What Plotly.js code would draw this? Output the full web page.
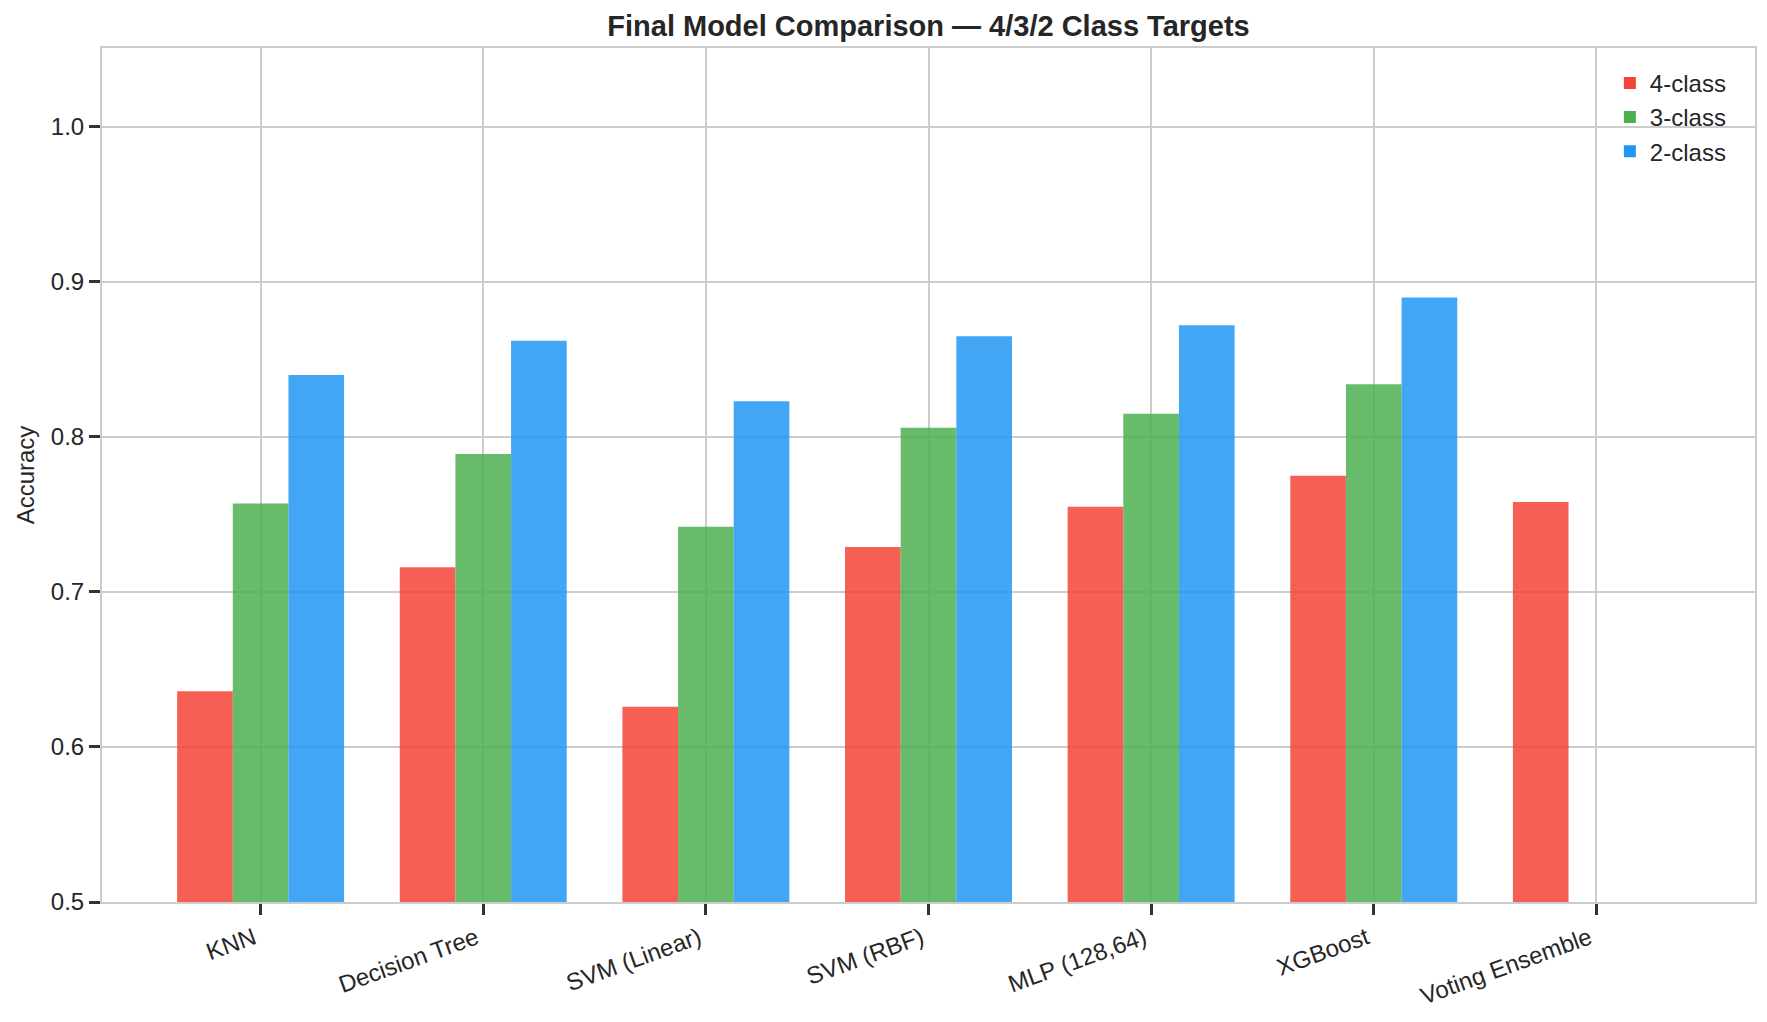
<!DOCTYPE html>
<html>
<head>
<meta charset="utf-8">
<script src="https://cdn.plot.ly/plotly-3.0.1.min.js"></script>
<style>html,body{margin:0;padding:0;background:#fff;}#chart{width:1767px;height:1022px;}</style>
</head>
<body>
<div id="chart"></div>
<script>
const models = ["KNN", "Decision Tree", "SVM (Linear)", "SVM (RBF)", "MLP (128,64)", "XGBoost", "Voting Ensemble"];
const acc4 = [0.636, 0.716, 0.626, 0.729, 0.755, 0.775, 0.758];
const acc3 = [0.757, 0.789, 0.742, 0.806, 0.815, 0.834, null];
const acc2 = [0.840, 0.862, 0.823, 0.865, 0.872, 0.890, null];
const seriesNames = ["4-class", "3-class", "2-class"];
const seriesColors = ["#F44336", "#4CAF50", "#2196F3"];
const yTicks = [0.5, 0.6, 0.7, 0.8, 0.9, 1.0];

const FONT = "Liberation Sans, Arial, Helvetica, sans-serif";
const TXT = "#262626";

const data = [acc4, acc3, acc2].map((vals, i) => ({
  type: "bar",
  name: seriesNames[i],
  x: models,
  y: vals,
  base: 0,
  marker: {color: seriesColors[i], opacity: 0.85, line: {width: 0}},
  hoverinfo: "x+y+name"
}));

const layout = {
  width: 1767,
  height: 1022,
  paper_bgcolor: "#ffffff",
  plot_bgcolor: "#ffffff",
  font: {family: FONT, size: 24, color: TXT},
  margin: {l: 102, r: 12, t: 48, b: 120, pad: 0},
  title: {
    text: "<b>Final Model Comparison — 4/3/2 Class Targets</b>",
    font: {family: FONT, size: 29, color: TXT},
    x: 0.5, xanchor: "center", xref: "paper",
    y: 0.975, yanchor: "middle"
  },
  barmode: "group",
  bargap: 0.25,
  bargroupgap: 0,
  showlegend: true,
  legend: {
    x: 0.986, xanchor: "right",
    y: 0.985, yanchor: "top",
    bgcolor: "rgba(0,0,0,0)",
    borderwidth: 0,
    font: {family: FONT, size: 24, color: TXT},
    tracegroupgap: 0,
    traceorder: "normal"
  },
  xaxis: {
    type: "category",
    range: [-0.7125, 6.7125],
    showline: true, mirror: true, linecolor: "#cccccc", linewidth: 2,
    showgrid: true, gridcolor: "#cccccc", gridwidth: 1.5,
    ticks: "outside", ticklen: 11, tickwidth: 2.5, tickcolor: "#333333",
    tickangle: -20,
    ticklabelshift: -7,
    tickfont: {family: FONT, size: 24, color: TXT},
    zeroline: false
  },
  yaxis: {
    range: [0.5, 1.0509],
    tickvals: yTicks,
    ticktext: yTicks.map(v => v.toFixed(1)),
    showline: true, mirror: true, linecolor: "#cccccc", linewidth: 2,
    showgrid: true, gridcolor: "#cccccc", gridwidth: 1.5,
    ticks: "outside", ticklen: 11, tickwidth: 2.5, tickcolor: "#333333",
    tickfont: {family: FONT, size: 24, color: TXT},
    zeroline: false,
    title: {text: "Accuracy", font: {family: FONT, size: 24, color: TXT}, standoff: 9}
  }
};

Plotly.newPlot("chart", data, layout, {displayModeBar: false, responsive: false});
</script>
</body>
</html>
